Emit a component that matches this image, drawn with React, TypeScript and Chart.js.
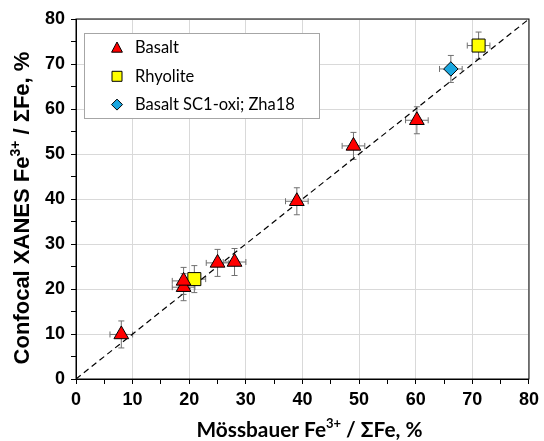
import React, { useEffect, useRef } from 'react';
import { Chart, registerables } from 'chart.js';

Chart.register(...registerables);

// ---- data ----
const basaltX = [8, 19, 19, 25, 28, 39, 49, 60.2];
const basaltY = [9.9, 20.4, 21.8, 25.8, 26.0, 39.5, 51.8, 57.5];
const basaltXErr = [2, 2, 2, 2, 2, 2, 2, 2];
const basaltYErr = [3, 3, 3, 3, 3, 3, 3, 3];

const rhyoliteX = [20.9, 71.1];
const rhyoliteY = [22.2, 74.1];
const rhyoliteXErr = [2, 2];
const rhyoliteYErr = [3, 3];

const sc1X = [66.2];
const sc1Y = [68.9];
const sc1XErr = [2];
const sc1YErr = [3];

const refLineX = [0, 80];
const refLineY = [0, 80];

const axisMin = 0;
const axisMax = 80;
const minorStep = 5;
const majorStep = 10;

const seriesNames = ['Basalt', 'Rhyolite', 'Basalt SC1-oxi; Zha18'];
const xTitleParts = ['Mössbauer Fe', '3+', ' / ΣFe, %'];
const yTitleParts = ['Confocal XANES Fe', '3+', ' / ΣFe, %'];

const pts = (xs: number[], ys: number[], xe: number[], ye: number[]) =>
  xs.map((x, i) => ({ x, y: ys[i], xErr: xe[i], yErr: ye[i] }));

const LATO = 'Lato, "Open Sans", sans-serif';
const ARIAL = '"Liberation Sans", Arial, sans-serif';

function drawSupText(
  ctx: CanvasRenderingContext2D,
  parts: string[],
  cx: number,
  cy: number,
  size: number,
  family: string,
) {
  const big = `bold ${size}px ${family}`;
  const small = `bold ${Math.round(size * 0.62)}px ${family}`;
  ctx.font = big;
  const w0 = ctx.measureText(parts[0]).width;
  const w2 = ctx.measureText(parts[2]).width;
  ctx.font = small;
  const w1 = ctx.measureText(parts[1]).width;
  const total = w0 + w1 + w2;
  let x = cx - total / 2;
  ctx.textBaseline = 'middle';
  ctx.textAlign = 'left';
  ctx.fillStyle = '#000';
  ctx.font = big;
  ctx.fillText(parts[0], x, cy);
  x += w0;
  ctx.font = small;
  ctx.fillText(parts[1], x, cy - size * 0.32);
  x += w1;
  ctx.font = big;
  ctx.fillText(parts[2], x, cy);
}

const decorPlugin = {
  id: 'decor',
  beforeDatasetsDraw(chart: any) {
    const { ctx } = chart;
    const xs = chart.scales.x;
    const ys = chart.scales.y;
    ctx.save();
    ctx.strokeStyle = '#707070';
    ctx.lineWidth = 1;
    const cap = 3;
    chart.data.datasets.forEach((ds: any) => {
      if (!ds.errorBars) return;
      ds.data.forEach((p: any) => {
        const px = xs.getPixelForValue(p.x);
        const py = ys.getPixelForValue(p.y);
        const x1 = xs.getPixelForValue(p.x - p.xErr);
        const x2 = xs.getPixelForValue(p.x + p.xErr);
        const y1 = ys.getPixelForValue(p.y - p.yErr);
        const y2 = ys.getPixelForValue(p.y + p.yErr);
        ctx.beginPath();
        ctx.moveTo(x1, py); ctx.lineTo(x2, py);
        ctx.moveTo(x1, py - cap); ctx.lineTo(x1, py + cap);
        ctx.moveTo(x2, py - cap); ctx.lineTo(x2, py + cap);
        ctx.moveTo(px, y1); ctx.lineTo(px, y2);
        ctx.moveTo(px - cap, y1); ctx.lineTo(px + cap, y1);
        ctx.moveTo(px - cap, y2); ctx.lineTo(px + cap, y2);
        ctx.stroke();
      });
    });
    ctx.restore();
  },
  afterDraw(chart: any) {
    const { ctx, chartArea } = chart;
    ctx.save();
    // plot border
    ctx.strokeStyle = '#000';
    ctx.lineWidth = 1;
    ctx.strokeRect(chartArea.left, chartArea.top, chartArea.right - chartArea.left, chartArea.bottom - chartArea.top);

    // legend
    const lx = chartArea.left + 8;
    const ly = chartArea.top + 14;
    const lw = 235;
    const lh = 85;
    ctx.fillStyle = '#fff';
    ctx.fillRect(lx, ly, lw, lh);
    ctx.strokeStyle = '#a6a6a6';
    ctx.strokeRect(lx + 0.5, ly + 0.5, lw, lh);
    const rowH = 28.3;
    const items = chart.data.datasets.filter((d: any) => d.errorBars);
    items.forEach((ds: any, i: number) => {
      const cy = ly + 15 + i * rowH;
      ctx.fillStyle = ds.backgroundColor;
      ctx.strokeStyle = ds.borderColor;
      ctx.lineWidth = 1;
      ctx.beginPath();
      const mx = lx + 33;
      if (ds.pointStyle === 'triangle') {
        const r = 6;
        ctx.moveTo(mx, cy - r);
        ctx.lineTo(mx + r * 0.9, cy + r * 0.7);
        ctx.lineTo(mx - r * 0.9, cy + r * 0.7);
        ctx.closePath();
      } else if (ds.pointStyle === 'rect') {
        ctx.rect(mx - 5, cy - 5, 10, 10);
      } else {
        ctx.moveTo(mx, cy - 5.5);
        ctx.lineTo(mx + 5.5, cy);
        ctx.lineTo(mx, cy + 5.5);
        ctx.lineTo(mx - 5.5, cy);
        ctx.closePath();
      }
      ctx.fill();
      ctx.stroke();
      ctx.fillStyle = '#000';
      ctx.font = `16.5px ${LATO}`;
      ctx.textBaseline = 'middle';
      ctx.textAlign = 'left';
      ctx.fillText(ds.label, lx + 51, cy);
    });

    // axis titles
    const xc = (chartArea.left + chartArea.right) / 2 + 7;
    drawSupText(ctx, xTitleParts, xc, chart.height - 11, 20.8, LATO);
    ctx.save();
    ctx.translate(23, (chartArea.top + chartArea.bottom) / 2 + 9);
    ctx.rotate(-Math.PI / 2);
    drawSupText(ctx, yTitleParts, 0, 0, 22, ARIAL);
    ctx.restore();
    ctx.restore();
  },
};

export default function App() {
  const ref = useRef<HTMLCanvasElement>(null);
  useEffect(() => {
    if (!ref.current) return;
    const gridColor = (c: any) =>
      c.tick && c.tick.value % majorStep === 0 ? '#d9d9d9' : 'rgba(0,0,0,0)';
    const tickCb = (v: any) => (Number(v) % majorStep === 0 ? String(v) : '');
    const tickFont = { family: ARIAL, size: 18, weight: 'bold' as const };
    const chart = new Chart(ref.current, {
      type: 'scatter',
      data: {
        datasets: [
          {
            label: seriesNames[0],
            data: pts(basaltX, basaltY, basaltXErr, basaltYErr),
            pointStyle: 'triangle',
            pointRadius: 8.5,
            backgroundColor: '#ff0000',
            borderColor: '#000',
            borderWidth: 1,
            errorBars: true,
            order: 1,
          } as any,
          {
            label: seriesNames[1],
            data: pts(rhyoliteX, rhyoliteY, rhyoliteXErr, rhyoliteYErr),
            pointStyle: 'rect',
            pointRadius: 9.2,
            backgroundColor: '#ffff00',
            borderColor: '#000',
            borderWidth: 1,
            errorBars: true,
            order: 1,
          } as any,
          {
            label: seriesNames[2],
            data: pts(sc1X, sc1Y, sc1XErr, sc1YErr),
            pointStyle: 'rectRot',
            pointRadius: 7.2,
            backgroundColor: '#1aa7e0',
            borderColor: '#000',
            borderWidth: 1,
            errorBars: true,
            order: 1,
          } as any,
          {
            label: '1:1',
            type: 'line',
            data: refLineX.map((x, i) => ({ x, y: refLineY[i] })),
            borderColor: '#000',
            borderWidth: 1.2,
            borderDash: [6, 4],
            pointRadius: 0,
            fill: false,
            order: 2,
          } as any,
        ],
      },
      options: {
        animation: false,
        responsive: false,
        maintainAspectRatio: false,
        layout: { padding: { top: 19, right: 14, left: 0, bottom: 0 } },
        plugins: {
          legend: { display: false },
          tooltip: { enabled: false },
        },
        scales: {
          x: {
            type: 'linear',
            min: axisMin,
            max: axisMax,
            ticks: { stepSize: minorStep, callback: tickCb, color: '#000', font: tickFont, padding: 5, autoSkip: false, maxRotation: 0 },
            grid: { color: gridColor, tickColor: '#000', tickLength: 5, drawTicks: true },
            border: { color: '#000', width: 1 },
            afterFit: (s: any) => { s.height = 62; },
          },
          y: {
            type: 'linear',
            min: axisMin,
            max: axisMax,
            ticks: { stepSize: minorStep, callback: tickCb, color: '#000', font: tickFont, padding: 6, autoSkip: false },
            grid: { color: gridColor, tickColor: '#000', tickLength: 5, drawTicks: true },
            border: { color: '#000', width: 1 },
            afterFit: (s: any) => { s.width = 76; },
          },
        },
      },
      plugins: [decorPlugin],
    });
    return () => chart.destroy();
  }, []);
  return (
    <div style={{ position: 'fixed', left: 0, top: 0, width: 544, height: 441, background: '#fff' }}>
      <canvas ref={ref} width={544} height={441} style={{ width: 544, height: 441 }} />
    </div>
  );
}
